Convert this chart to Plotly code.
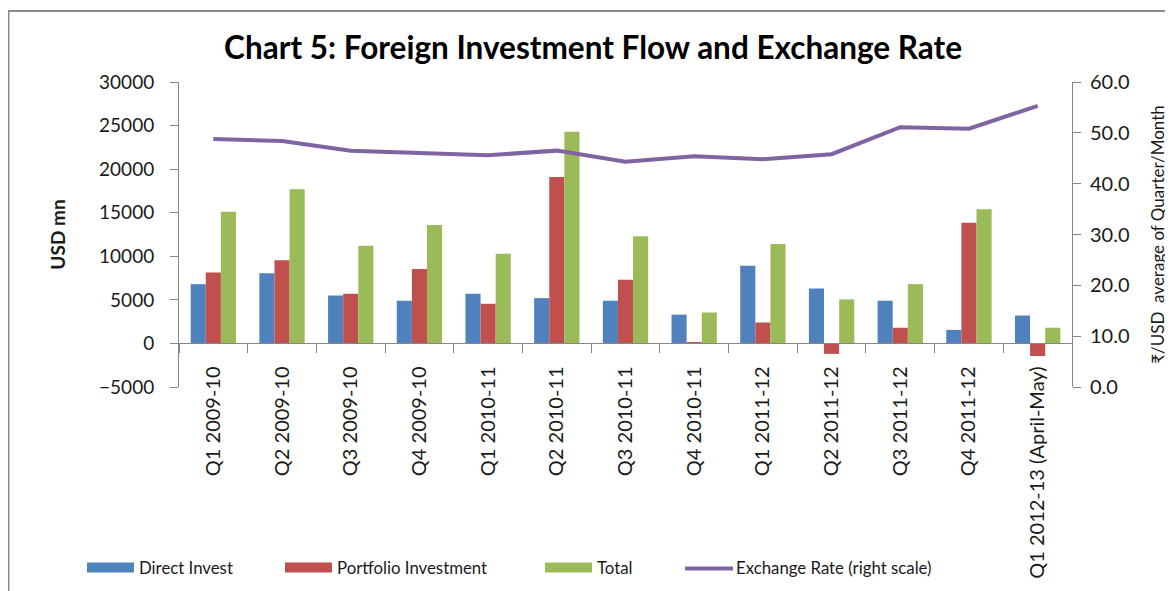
import plotly.graph_objects as go

categories = ["Q1 2009-10", "Q2 2009-10", "Q3 2009-10", "Q4 2009-10",
              "Q1 2010-11", "Q2 2010-11", "Q3 2010-11", "Q4 2010-11",
              "Q1 2011-12", "Q2 2011-12", "Q3 2011-12", "Q4 2011-12",
              "Q1 2012-13 (April-May)"]
direct_invest = [6800, 8050, 5500, 4900, 5700, 5200, 4900, 3300, 8900, 6300, 4900, 1550, 3200]
portfolio_investment = [8150, 9550, 5700, 8550, 4550, 19100, 7300, 150, 2400, -1200, 1800, 13850, -1450]
total = [15100, 17700, 11200, 13600, 10300, 24300, 12300, 3550, 11400, 5050, 6800, 15400, 1800]
exchange_rate = [48.8, 48.4, 46.5, 46.0, 45.6, 46.5, 44.3, 45.4, 44.8, 45.8, 51.1, 50.8, 55.3]

series_names = ["Direct Invest", "Portfolio Investment", "Total", "Exchange Rate (right scale)"]
series_colors = ["#4F81BD", "#C0504D", "#9BBB59", "#8064A2"]

FONT = "Lato, 'Open Sans', sans-serif"
AXIS_GRAY = "#868686"
TEXT = "#1a1a1a"

# The page body has an 8px margin, so design in screen coords minus 8.
OFF = 8
W, H = 1173 - OFF, 591 - OFF
L, R, T, B = 179 - OFF, 1072 - OFF, 82 - OFF, 387 - OFF
PW, PH = R - L, B - T


def px(x):
    return (x - OFF - L) / PW


def py(y):
    return (B - (y - OFF)) / PH


fig = go.Figure()
for name, vals, col in zip(series_names[:3], [direct_invest, portfolio_investment, total], series_colors[:3]):
    fig.add_trace(go.Bar(x=categories, y=vals, name=name, marker_color=col,
                         marker_line_width=0, showlegend=False))
fig.add_trace(go.Scatter(x=categories, y=exchange_rate, name=series_names[3],
                         mode="lines", line=dict(color=series_colors[3], width=4),
                         yaxis="y2", showlegend=False))

# legend drawn as Excel-style wide swatches + text
legend_swatch_x = [87, 285, 545, 685]
legend_y = 567.5
shapes = [dict(type="rect", xref="paper", yref="paper",
               x0=px(8.5), x1=1.3, y0=-0.8, y1=py(11),
               line=dict(color="#8c8c8c", width=2), fillcolor="rgba(0,0,0,0)",
               layer="below")]
annotations = []
for i, (name, col, sx) in enumerate(zip(series_names, series_colors, legend_swatch_x)):
    if i < 3:
        shapes.append(dict(type="rect", xref="paper", yref="paper",
                           x0=px(sx), x1=px(sx + 47), y0=py(legend_y + 5), y1=py(legend_y - 5),
                           fillcolor=col, line=dict(width=0)))
    else:
        shapes.append(dict(type="line", xref="paper", yref="paper",
                           x0=px(sx), x1=px(sx + 48), y0=py(legend_y + 1), y1=py(legend_y + 1),
                           line=dict(color=col, width=4)))
    annotations.append(dict(text=name, xref="paper", yref="paper",
                            x=px(sx + (50 if i < 3 else 49)), y=py(legend_y),
                            xanchor="left", yanchor="middle", showarrow=False,
                            font=dict(size=16.8, color=TEXT, family=FONT)))

fig.update_layout(
    width=W, height=H,
    margin=dict(l=L, r=W - R, t=T, b=H - B, autoexpand=False),
    paper_bgcolor="white", plot_bgcolor="white",
    font=dict(family=FONT, size=19, color=TEXT),
    title=dict(text="<b>Chart 5: Foreign Investment Flow and Exchange Rate</b>",
               x=(593 - OFF) / W, xanchor="center", y=1 - (48 - OFF) / H, yanchor="middle",
               font=dict(size=31.5, color="#000000", family=FONT)),
    barmode="group", bargap=0.34, bargroupgap=0,
    showlegend=False,
    xaxis=dict(range=[-0.5, 12.5], anchor="free", position=5000 / 35000,
               showline=True, linecolor=AXIS_GRAY, linewidth=1,
               ticks="outside", tickson="boundaries", ticklen=9, tickcolor=AXIS_GRAY,
               tickangle=-90, ticklabelstandoff=14, showgrid=False, automargin=False,
               tickfont=dict(size=20, color=TEXT)),
    yaxis=dict(range=[-5000, 30000], dtick=5000, tickformat="d",
               showline=True, linecolor=AXIS_GRAY, linewidth=1,
               ticks="outside", ticklen=8, tickcolor=AXIS_GRAY, ticklabelstandoff=12,
               showgrid=False, zeroline=False, automargin=False,
               title=dict(text="<b>USD mn</b>", font=dict(size=19), standoff=28),
               tickfont=dict(size=19)),
    yaxis2=dict(range=[0, 60], dtick=10, tickformat=".1f", overlaying="y", side="right",
                showline=True, linecolor=AXIS_GRAY, linewidth=1,
                ticks="outside", ticklen=8, tickcolor=AXIS_GRAY, ticklabelstandoff=5,
                showgrid=False, zeroline=False, automargin=False,
                title=dict(text="₹/USD  average of Quarter/Month", font=dict(size=17), standoff=23),
                tickfont=dict(size=20)),
    shapes=shapes,
    annotations=annotations,
)

fig.write_html("out.html")
